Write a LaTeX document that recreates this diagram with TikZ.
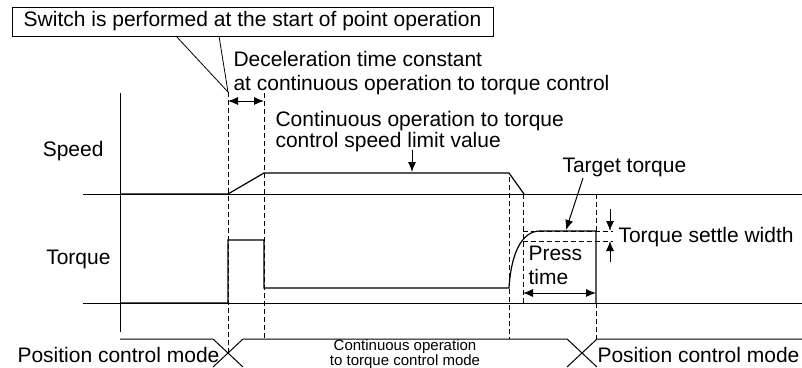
\documentclass[tikz,border=0pt]{standalone}
\usepackage{fontspec}
\setmainfont{Liberation Sans}
\usetikzlibrary{arrows.meta}
\begin{document}
\begin{tikzpicture}[x=1pt,y=-1pt,line width=1pt,
  lbl/.style={inner sep=0pt,font=\fontsize{21}{24}\selectfont,align=left},
  small/.style={inner sep=0pt,font=\fontsize{15}{12.5}\selectfont,align=center},
  dsh/.style={dash pattern=on 5pt off 3pt,line width=0.9pt},
  sig/.style={line width=1.2pt},
  arr/.style={-{Latex[length=10pt,width=8pt]}},
  darr/.style={{Latex[length=10pt,width=8pt]}-{Latex[length=10pt,width=8pt]}}]
\useasboundingbox (0,0) rectangle (802,367);
% labels
\node[lbl,draw,minimum width=481pt,minimum height=29pt,align=center] (box) at (252.5,21.5) {Switch is performed at the start of point operation};
\node[lbl,anchor=north west,font=\fontsize{21}{24.7}\selectfont] (dec) at (233,50.5) {Deceleration time constant\\at continuous operation to torque control};
\node[lbl,anchor=north west,font=\fontsize{21}{21.7}\selectfont] (csl) at (275,110.5) {Continuous operation to torque\\control speed limit value};
\node[lbl,anchor=east] (speed) at (104,151) {Speed};
\node[lbl,anchor=east] (torque) at (111,259) {Torque};
\node[lbl,anchor=west] (target) at (562,167) {Target torque};
\node[lbl,anchor=west] (settle) at (618,237) {Torque settle width};
\node[lbl,anchor=north west] (press) at (528,245.5) {Press\\time};
\node[lbl,anchor=west] (pcm1) at (17,355) {Position control mode};
\node[lbl,anchor=west] (pcm2) at (597,355) {Position control mode};
\node[small,anchor=north] (ctm) at (405,339.5) {Continuous operation\\to torque control mode};
% coordinates
\coordinate (sw) at (228,92);
\coordinate (l1) at (176,36);
\coordinate (l2) at (219,36);
% axes and baselines
\draw (83,194) -- (802,194);
\draw (83,303) -- (802,303);
\draw (120,93) -- (120,332);
% speed signal
\draw[sig] (120,194) -- (228,194) -- (264,173) -- (509,173) -- (524,194);
% torque signal
\draw[sig] (120,303) -- (228,303) -- (228,240) -- (264,240) -- (264,288) -- (509,288)
  .. controls (511,255) and (521,231) .. (540,231) -- (596,231) -- (596,303);
% dashed guides
\draw[dsh] (sw) -- (228,353);
\draw[dsh] (264,93) -- (264,339);
\draw[dsh] (509,177) -- (509,339);
\draw[dsh] (523,194) -- (523,303);
\draw[dsh] (596,194) -- (596,231);
\draw[dsh] (596,303) -- (596,339);
\draw[dsh] (523,231) -- (613,231);
\draw[dsh] (523,241) -- (613,241);
% mode line
\draw (120,339) -- (213,339) -- (243,367);
\draw (213,367) -- (243,339) -- (567,339) -- (597,367);
\draw (567,367) -- (597,339) -- (802,339);
% leaders
\draw[line width=0.8pt] (l1) -- (sw) -- (l2);
% arrows
\draw[darr] (228,101) -- (264,101);
\draw[arr] (412,150) -- (412,172);
\draw[arr] (583,178) -- (566,230);
\draw[arr] (610,209) -- (610,231);
\draw[arr] (610,262) -- (610,241);
\draw[darr] (523,293) -- (596,293);
\end{tikzpicture}
\end{document}
